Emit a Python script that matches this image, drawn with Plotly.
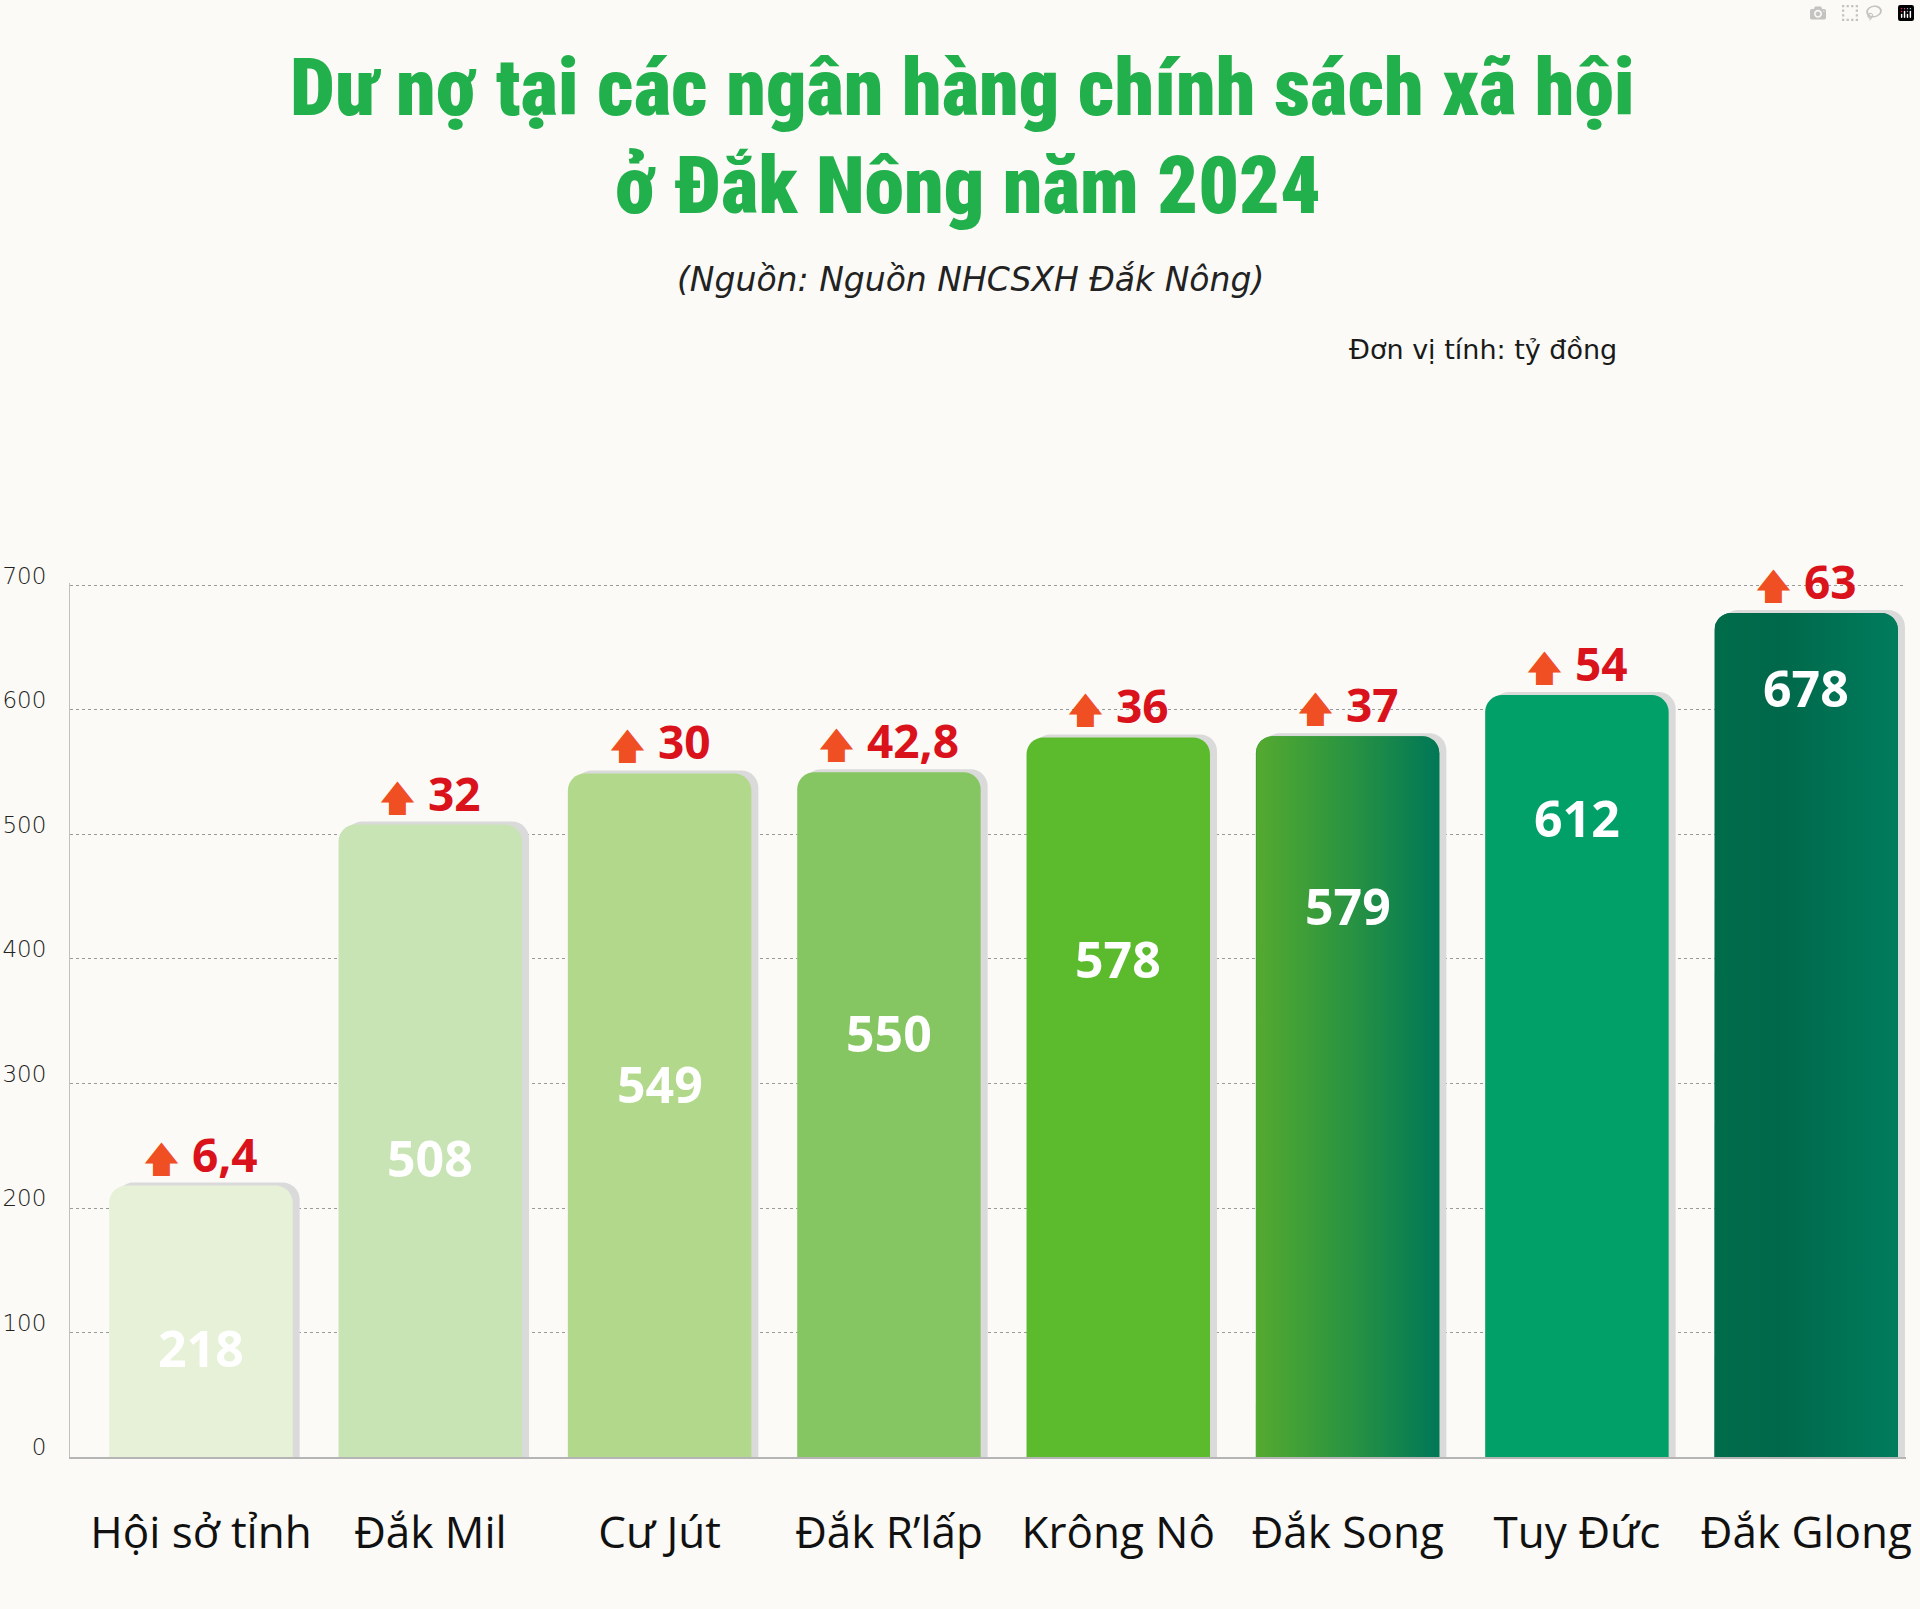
import numpy as np
import plotly.graph_objects as go

# ---------------- data ----------------
categories = ["Hội sở tỉnh", "Đắk Mil", "Cư Jút", "Đắk R’lấp", "Krông Nô", "Đắk Song", "Tuy Đức", "Đắk Glong"]
values = [218, 508, 549, 550, 578, 579, 612, 678]
increases = [6.4, 32, 30, 42.8, 36, 37, 54, 63]
y_ticks = [0, 100, 200, 300, 400, 500, 600, 700]

bar_colors = ["#e6f1d8", "#c9e4b4", "#b1d88b", "#86c662", "#5cbb2d", "#2e9440", "#00a068", "#006e4d"]
gradients = {5: [[0, "#55aa2f"], [0.5, "#2a9441"], [1, "#007757"]],
             7: [[0, "#006c49"], [0.35, "#00684a"], [1, "#007c5d"]]}

# ---------------- layout geometry ----------------
W, H = 1920, 1609
ML, MR, MT, MB = 70, 14, 583, 152
x_range = [-0.571, 7.435]
y_range = [0, 702]
bar_w = 0.8
px_per_x = (W - ML - MR) / (x_range[1] - x_range[0])
px_per_y = (H - MT - MB) / (y_range[1] - y_range[0])


def px_to_paper_x(px):
    return (px - ML) / (W - ML - MR)


def px_to_paper_y(py):
    return (H - MB - py) / (H - MT - MB)


xs = list(range(len(categories)))

fig = go.Figure()

# shadow bars
fig.add_trace(go.Bar(
    x=[x + 7 / px_per_x for x in xs],
    y=[v + 3 / px_per_y for v in values],
    width=bar_w,
    marker=dict(color="#dadada", cornerradius=17, line=dict(width=0)),
    hoverinfo="skip",
    showlegend=False,
))

# main bars
fig.add_trace(go.Bar(
    x=xs,
    y=values,
    width=bar_w,
    marker=dict(color=bar_colors, cornerradius=17, line=dict(width=0)),
    showlegend=False,
    hovertemplate="%{customdata}: %{y}<extra></extra>",
    customdata=categories,
))

# gradient overlays for bars that have a gradient fill
rx = 17 / px_per_x
ry = 17 / px_per_y
for i, cs in gradients.items():
    v = values[i]
    left, right = i - bar_w / 2, i + bar_w / 2
    t = np.linspace(0, np.pi / 2, 12)
    px_ = [left, left]
    py_ = [0, v - ry]
    px_ += list(left + rx - rx * np.cos(t))
    py_ += list(v - ry + ry * np.sin(t))
    px_ += list(right - rx + rx * np.sin(t))
    py_ += list(v - ry + ry * np.cos(t))
    px_ += [right, left]
    py_ += [0, 0]
    fig.add_trace(go.Scatter(
        x=px_, y=py_, mode="lines", fill="toself",
        line=dict(width=0, color="rgba(0,0,0,0)"),
        fillgradient=dict(type="horizontal", colorscale=cs),
        hoverinfo="skip", showlegend=False,
    ))

annotations = []

# value labels inside bars
for i, v in enumerate(values):
    frac = 0.40 + 0.073 * i
    annotations.append(dict(
        x=i, y=v * frac, xref="x", yref="y", text=f"<b>{v}</b>", showarrow=False,
        font=dict(family="Open Sans, sans-serif", size=50, color="#ffffff"),
        xanchor="center", yanchor="middle",
    ))

# increase labels above bars
for i, (v, inc) in enumerate(zip(values, increases)):
    txt = f"{inc:g}".replace(".", ",")
    annotations.append(dict(
        x=i, y=v, xref="x", yref="y",
        text=f'<span style="color:#f04e23;font-size:36px">🡅</span> <b>{txt}</b>',
        showarrow=False, yshift=32,
        font=dict(family="Open Sans, sans-serif", size=46, color="#d9121b"),
        xanchor="center", yanchor="middle",
    ))

# titles
title_font = dict(family="Roboto, sans-serif", size=80, color="#21b04b", weight=900)
annotations.append(dict(
    x=px_to_paper_x(962), y=px_to_paper_y(88), xref="paper", yref="paper",
    text='<span style="font-stretch:condensed;font-weight:900">Dư nợ tại các ngân hàng chính sách xã hội</span>',
    showarrow=False, font=title_font, xanchor="center", yanchor="middle",
))
annotations.append(dict(
    x=px_to_paper_x(968), y=px_to_paper_y(186), xref="paper", yref="paper",
    text='<span style="font-stretch:condensed;font-weight:900">ở Đắk Nông năm 2024</span>',
    showarrow=False, font=title_font, xanchor="center", yanchor="middle",
))
annotations.append(dict(
    x=px_to_paper_x(970), y=px_to_paper_y(279), xref="paper", yref="paper",
    text="<i>(Nguồn: Nguồn NHCSXH Đắk Nông)</i>", showarrow=False,
    font=dict(family="DejaVu Sans, sans-serif", size=33, color="#222222", weight=300),
    xanchor="center", yanchor="middle",
))
annotations.append(dict(
    x=px_to_paper_x(1619), y=px_to_paper_y(350), xref="paper", yref="paper",
    text="Đơn vị tính: tỷ đồng", showarrow=False,
    font=dict(family="DejaVu Sans, sans-serif", size=27, color="#1a1a1a", weight=400),
    xanchor="right", yanchor="middle",
))

fig.update_layout(
    width=W, height=H,
    margin=dict(l=ML, r=MR, t=MT, b=MB, autoexpand=False),
    paper_bgcolor="#fbfaf6",
    plot_bgcolor="#fbfaf6",
    barmode="overlay",
    showlegend=False,
    annotations=annotations,
    xaxis=dict(
        range=x_range, tickmode="array", tickvals=xs, ticktext=categories,
        showgrid=False, zeroline=False, showline=True, linecolor="#b5b5b5", linewidth=1.5,
        ticks="", ticklabelstandoff=36,
        tickfont=dict(family="Open Sans, sans-serif", size=44, color="#111111"),
        automargin=False, fixedrange=True,
    ),
    yaxis=dict(
        range=y_range, tickmode="array", tickvals=y_ticks,
        showgrid=True, gridcolor="#9a9a9a", griddash="dot", gridwidth=1,
        zeroline=False, showline=True, linecolor="#c0c0c0", linewidth=1,
        ticks="", ticklabelstandoff=18, ticklabelshift=-10,
        tickfont=dict(family="DejaVu Sans, sans-serif", size=23, color="#222222", weight=200),
        automargin=False, fixedrange=True,
    ),
)

fig.write_html("out.html", post_script="document.body.style.margin='0';")
